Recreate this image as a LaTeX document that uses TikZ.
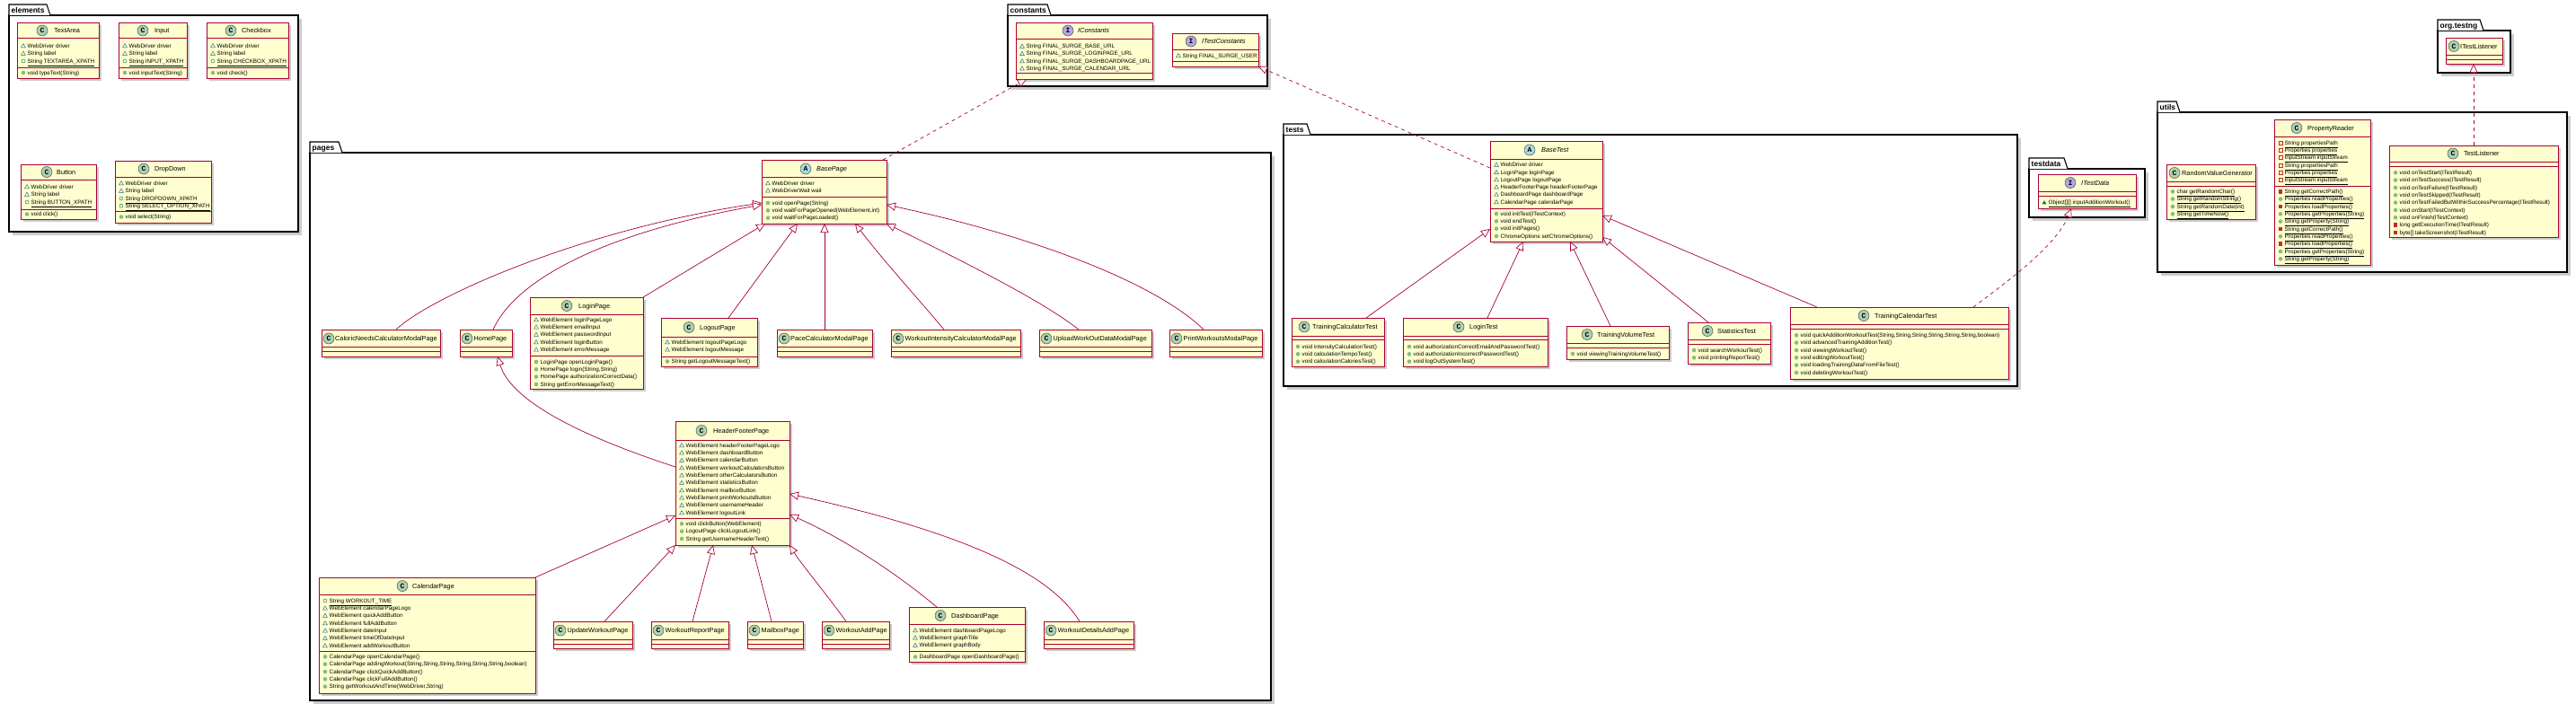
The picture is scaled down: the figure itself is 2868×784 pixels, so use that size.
\documentclass[tikz,border=0pt]{standalone}
\usepackage{fontspec}
\setmainfont{Liberation Sans}
\newfontfamily\iconfont{Liberation Mono}
\usetikzlibrary{arrows.meta,fit}
\definecolor{boxfill}{HTML}{FEFECE}
\definecolor{boxline}{HTML}{A80036}
\definecolor{ccirc}{HTML}{ADD1B2}
\definecolor{acirc}{HTML}{A9DCDF}
\definecolor{icirc}{HTML}{B4A7E5}
\definecolor{pkgc}{HTML}{1963A0}
\definecolor{pubc}{HTML}{038048}
\definecolor{pubm}{HTML}{84BE84}
\definecolor{privc}{HTML}{C82930}
\definecolor{shad}{gray}{0.8}
\newcounter{obj}
\newcommand\cls[5]{%
  \fill[shad] ({#2+3},{#3+3}) rectangle ({#4+3},{#5+3});
  \node[clsbox, fit={(#2,#3) (#4,#5)}] (#1) {};}
\newcommand\csep[3]{\draw[boxline, line width=0.8pt] (#1,#3) -- (#2,#3);}
\newcommand\chead[6]{%
  \stepcounter{obj}\node[circ, fill=#5] (o\theobj) at (#1,#2) {#4};
  \stepcounter{obj}\node[cname] (o\theobj) at (#3,{#2+2.6}) {#6};}
\newcommand\mem[4]{%
  \pic at ({#1+7},#2) {#3};
  \stepcounter{obj}\node[mtext] (o\theobj) at ({#1+11.5},{#2+2.2}) {#4};}
\newcommand\pkg[8]{%
  \fill[shad] ({#3+4},{#6+4}) rectangle ({#7+4},{#8+4});
  \node[pkgbox, fit={(#3,#6) (#7,#8)}] (#1) {};
  \draw[black, line width=1.1pt, fill=white] (#3,#6) -- (#3,#4) -- (#5,#4) -- ({#5+4},#6);
  \stepcounter{obj}\node[pkglabel] (o\theobj) at ({#3+2.5},{#6-2.8}) {#2};}
\begin{document}
\begin{tikzpicture}[x=1pt,y=-1pt,
  clsbox/.style={draw=boxline, fill=boxfill, line width=0.9pt, inner sep=0pt, outer sep=0pt},
  pkgbox/.style={draw=black, fill=white, line width=1.1pt, inner sep=0pt, outer sep=0pt},
  circ/.style={circle, minimum size=12pt, inner sep=0pt, draw=black!70, line width=0.5pt, font=\iconfont\bfseries\fontsize{8}{8}\selectfont},
  cname/.style={anchor=base west, inner sep=0pt, font=\fontsize{7.3}{9}\selectfont},
  mtext/.style={anchor=base west, inner sep=0pt, font=\fontsize{6.3}{8}\selectfont},
  pkglabel/.style={anchor=base west, inner sep=0pt, font=\bfseries\fontsize{8.5}{10}\selectfont},
  inh/.style={draw=boxline, line width=0.7pt, -{Triangle[length=10pt,width=9pt,fill=white]}},
  real/.style={inh, dash pattern=on 4pt off 4pt},
  pf/.pic={\draw[pkgc,line width=0.45pt] (-2.4,1.8) -- (2.4,1.8) -- (0,-2.4) -- cycle;},
  pm/.pic={\fill[pkgc] (-2.4,1.8) -- (2.4,1.8) -- (0,-2.4) -- cycle;},
  uf/.pic={\draw[pubc,line width=0.45pt] (0,0) circle (2pt);},
  um/.pic={\fill[pubm] (0,0) circle (2.3pt);},
  rf/.pic={\draw[privc,line width=0.45pt] (-2,-2) rectangle (2,2);},
  rm/.pic={\fill[privc] (-2.3,-2.3) rectangle (2.3,2.3);}
]
\useasboundingbox[fill=white] (0,0) rectangle (2868,784);

% ---------------- packages
\pkg{elements}{elements}{10}{5}{52}{17}{332}{258}
\pkg{constants}{constants}{1122}{5}{1166}{17}{1411}{96}
\pkg{pages}{pages}{345}{158}{377}{170}{1415}{780}
\pkg{tests}{tests}{1429}{138}{1455}{150}{2246}{430}
\pkg{testdata}{testdata}{2259}{176}{2298}{188}{2388}{242}
\pkg{utils}{utils}{2402}{113}{2423}{125}{2858}{303}
\pkg{orgtestng}{org.testng}{2714}{22}{2761}{34}{2795}{81}

% ---------------- elements
\cls{TextArea}{19}{25}{110}{87}
\csep{19}{110}{42}\csep{19}{110}{75}
\chead{47}{34}{60}{C}{ccirc}{TextArea}
\mem{19}{51}{pf}{WebDriver driver}
\mem{19}{59.5}{pf}{String label}
\mem{19}{68}{uf}{\underline{String TEXTAREA\_XPATH}}
\mem{19}{81}{um}{void typeText(String)}

\cls{Input}{132}{25}{208}{87}
\csep{132}{208}{42}\csep{132}{208}{75}
\chead{159}{34}{172}{C}{ccirc}{Input}
\mem{132}{51}{pf}{WebDriver driver}
\mem{132}{59.5}{pf}{String label}
\mem{132}{68}{uf}{\underline{String INPUT\_XPATH}}
\mem{132}{81}{um}{void inputText(String)}

\cls{Checkbox}{230}{25}{321}{87}
\csep{230}{321}{42}\csep{230}{321}{75}
\chead{257}{34}{269}{C}{ccirc}{Checkbox}
\mem{230}{51}{pf}{WebDriver driver}
\mem{230}{59.5}{pf}{String label}
\mem{230}{68}{uf}{\underline{String CHECKBOX\_XPATH}}
\mem{230}{81}{um}{void check()}

\cls{Button}{23}{183}{107}{244}
\csep{23}{107}{200}\csep{23}{107}{233}
\chead{52}{191.5}{63}{C}{ccirc}{Button}
\mem{23}{208}{pf}{WebDriver driver}
\mem{23}{216.5}{pf}{String label}
\mem{23}{225}{uf}{\underline{String BUTTON\_XPATH}}
\mem{23}{238.5}{um}{void click()}

\cls{DropDown}{128}{179}{235}{248}
\csep{128}{235}{197}\csep{128}{235}{235}
\chead{160}{188}{172}{C}{ccirc}{DropDown}
\mem{128}{204}{pf}{WebDriver driver}
\mem{128}{212.5}{pf}{String label}
\mem{128}{221}{uf}{\underline{String DROPDOWN\_XPATH}}
\mem{128}{229.3}{uf}{\underline{String SELECT\_OPTION\_XPATH}}
\mem{128}{241.5}{um}{void select(String)}

% ---------------- constants
\cls{IConstants}{1131}{25}{1283}{88}
\csep{1131}{1283}{43}\csep{1131}{1283}{81}
\chead{1189}{34}{1200}{I}{icirc}{\textit{IConstants}}
\mem{1131}{51.5}{pf}{String FINAL\_SURGE\_BASE\_URL}
\mem{1131}{59.8}{pf}{String FINAL\_SURGE\_LOGINPAGE\_URL}
\mem{1131}{68.1}{pf}{String FINAL\_SURGE\_DASHBOARDPAGE\_URL}
\mem{1131}{76.4}{pf}{String FINAL\_SURGE\_CALENDAR\_URL}

\cls{ITestConstants}{1305}{37}{1401}{74}
\csep{1305}{1401}{55}\csep{1305}{1401}{68}
\chead{1326}{46}{1338}{I}{icirc}{\textit{ITestConstants}}
\mem{1305}{62}{pf}{String FINAL\_SURGE\_USER}

% ---------------- pages
\cls{BasePage}{848}{178}{987}{249}
\csep{848}{987}{197}\csep{848}{987}{219}
\chead{897}{188}{909}{A}{acirc}{\textit{BasePage}}
\mem{848}{204}{pf}{WebDriver driver}
\mem{848}{212.3}{pf}{WebDriverWait wait}
\mem{848}{226}{um}{void openPage(String)}
\mem{848}{234.3}{um}{void waitForPageOpened(WebElement,int)}
\mem{848}{242.6}{um}{void waitForPageLoaded()}

\cls{LoginPage}{590}{331}{716}{433}
\csep{590}{716}{350}\csep{590}{716}{396}
\chead{631}{340.5}{644}{C}{ccirc}{LoginPage}
\mem{590}{356}{pf}{WebElement loginPageLogo}
\mem{590}{364.3}{pf}{WebElement emailInput}
\mem{590}{372.6}{pf}{WebElement passwordInput}
\mem{590}{381}{pf}{WebElement loginButton}
\mem{590}{389.3}{pf}{WebElement errorMessage}
\mem{590}{403}{um}{LoginPage openLoginPage()}
\mem{590}{411.3}{um}{HomePage login(String,String)}
\mem{590}{419.6}{um}{HomePage authorizationCorrectData()}
\mem{590}{428}{um}{String getErrorMessageText()}

\cls{LogoutPage}{736}{354}{843}{408}
\csep{736}{843}{375}\csep{736}{843}{397}
\chead{767}{364.5}{779}{C}{ccirc}{LogoutPage}
\mem{736}{381}{pf}{WebElement logoutPageLogo}
\mem{736}{389.3}{pf}{WebElement logoutMessage}
\mem{736}{402.5}{um}{String getLogoutMessageText()}

\cls{CaloricNeedsCalculatorModalPage}{358}{367}{490}{397}
\csep{358}{490}{386.5}\csep{358}{490}{391.5}
\chead{366}{377}{373}{C}{ccirc}{CaloricNeedsCalculatorModalPage}

\cls{HomePage}{512}{367}{570}{397}
\csep{512}{570}{386.5}\csep{512}{570}{391.5}
\chead{520}{377}{527.5}{C}{ccirc}{HomePage}

\cls{PaceCalculatorModalPage}{865}{367}{971}{397}
\csep{865}{971}{386.5}\csep{865}{971}{391.5}
\chead{873}{377}{880}{C}{ccirc}{PaceCalculatorModalPage}

\cls{WorkoutIntensityCalculatorModalPage}{992}{367}{1136}{397}
\csep{992}{1136}{386.5}\csep{992}{1136}{391.5}
\chead{1000}{377}{1007.5}{C}{ccirc}{WorkoutIntensityCalculatorModalPage}

\cls{UploadWorkOutDataModalPage}{1157}{367}{1282}{397}
\csep{1157}{1282}{386.5}\csep{1157}{1282}{391.5}
\chead{1165}{377}{1172.5}{C}{ccirc}{UploadWorkOutDataModalPage}

\cls{PrintWorkoutsModalPage}{1302}{367}{1405}{397}
\csep{1302}{1405}{386.5}\csep{1302}{1405}{391.5}
\chead{1310}{377}{1317.5}{C}{ccirc}{PrintWorkoutsModalPage}

\cls{HeaderFooterPage}{752}{469}{879}{607}
\csep{752}{879}{490}\csep{752}{879}{577}
\chead{781}{479.5}{794}{C}{ccirc}{HeaderFooterPage}
\mem{752}{496}{pf}{WebElement headerFooterPageLogo}
\mem{752}{504.3}{pf}{WebElement dashboardButton}
\mem{752}{512.6}{pf}{WebElement calendarButton}
\mem{752}{521}{pf}{WebElement workoutCalculatorsButton}
\mem{752}{529.3}{pf}{WebElement otherCalculatorsButton}
\mem{752}{537.6}{pf}{WebElement statisticsButton}
\mem{752}{546}{pf}{WebElement mailboxButton}
\mem{752}{554.3}{pf}{WebElement printWorkoutsButton}
\mem{752}{562.6}{pf}{WebElement usernameHeader}
\mem{752}{571}{pf}{WebElement logoutLink}
\mem{752}{583.3}{um}{void clickButton(WebElement)}
\mem{752}{591.6}{um}{LogoutPage clickLogoutLink()}
\mem{752}{600}{um}{String getUsernameHeaderText()}

\cls{CalendarPage}{355}{643}{596}{772}
\csep{355}{596}{662}\csep{355}{596}{725}
\chead{448}{652.5}{459}{C}{ccirc}{CalendarPage}
\mem{355}{669}{uf}{\underline{String WORKOUT\_TIME}}
\mem{355}{677.3}{pf}{WebElement calendarPageLogo}
\mem{355}{685.6}{pf}{WebElement quickAddButton}
\mem{355}{694}{pf}{WebElement fullAddButton}
\mem{355}{702.3}{pf}{WebElement dateInput}
\mem{355}{710.6}{pf}{WebElement timeOfDateInput}
\mem{355}{719}{pf}{WebElement addWorkoutButton}
\mem{355}{731.3}{um}{CalendarPage openCalendarPage()}
\mem{355}{739.6}{um}{CalendarPage addingWorkout(String,String,String,String,String,String,boolean)}
\mem{355}{748}{um}{CalendarPage clickQuickAddButton()}
\mem{355}{756.3}{um}{CalendarPage clickFullAddButton()}
\mem{355}{764.6}{um}{String getWorkoutAndTime(WebDriver,String)}

\cls{UpdateWorkoutPage}{616}{692}{704}{722}
\csep{616}{704}{712}\csep{616}{704}{717}
\chead{624}{702}{631.5}{C}{ccirc}{UpdateWorkoutPage}

\cls{WorkoutReportPage}{725}{692}{811}{722}
\csep{725}{811}{712}\csep{725}{811}{717}
\chead{733}{702}{740.5}{C}{ccirc}{WorkoutReportPage}

\cls{MailboxPage}{832}{692}{894}{722}
\csep{832}{894}{712}\csep{832}{894}{717}
\chead{840}{702}{847.5}{C}{ccirc}{MailboxPage}

\cls{WorkoutAddPage}{915}{692}{990}{722}
\csep{915}{990}{712}\csep{915}{990}{717}
\chead{923}{702}{930.5}{C}{ccirc}{WorkoutAddPage}

\cls{DashboardPage}{1012}{676}{1141}{737}
\csep{1012}{1141}{695}\csep{1012}{1141}{725}
\chead{1047}{685.5}{1059}{C}{ccirc}{DashboardPage}
\mem{1012}{702}{pf}{WebElement dashboardPageLogo}
\mem{1012}{710.3}{pf}{WebElement graphTitle}
\mem{1012}{718.6}{pf}{WebElement graphBody}
\mem{1012}{731.5}{um}{DashboardPage openDashboardPage()}

\cls{WorkoutDetailsAddPage}{1162}{692}{1262}{722}
\csep{1162}{1262}{712}\csep{1162}{1262}{717}
\chead{1170}{702}{1177.5}{C}{ccirc}{WorkoutDetailsAddPage}

% ---------------- tests
\cls{BaseTest}{1659}{157}{1784}{269}
\csep{1659}{1784}{177}\csep{1659}{1784}{232}
\chead{1703}{167}{1716}{A}{acirc}{\textit{BaseTest}}
\mem{1659}{183.5}{pf}{WebDriver driver}
\mem{1659}{191.8}{pf}{LoginPage loginPage}
\mem{1659}{200.1}{pf}{LogoutPage logoutPage}
\mem{1659}{208.4}{pf}{HeaderFooterPage headerFooterPage}
\mem{1659}{216.7}{pf}{DashboardPage dashboardPage}
\mem{1659}{225}{pf}{CalendarPage calendarPage}
\mem{1659}{238}{um}{void initTest(ITestContext)}
\mem{1659}{246.3}{um}{void endTest()}
\mem{1659}{254.6}{um}{void initPages()}
\mem{1659}{263}{um}{ChromeOptions setChromeOptions()}

\cls{TrainingCalculatorTest}{1438}{354}{1541}{408}
\csep{1438}{1541}{374}\csep{1438}{1541}{378.5}
\chead{1452}{364}{1461}{C}{ccirc}{TrainingCalculatorTest}
\mem{1438}{386}{um}{void intensityCalculationTest()}
\mem{1438}{394.3}{um}{void calculationTempoTest()}
\mem{1438}{402.6}{um}{void calculationCaloriesTest()}

\cls{LoginTest}{1562}{354}{1723}{408}
\csep{1562}{1723}{374}\csep{1562}{1723}{378.5}
\chead{1624}{364}{1636}{C}{ccirc}{LoginTest}
\mem{1562}{386}{um}{void authorizationCorrectEmailAndPasswordTest()}
\mem{1562}{394.3}{um}{void authorizationIncorrectPasswordTest()}
\mem{1562}{402.6}{um}{void logOutSystemTest()}

\cls{TrainingVolumeTest}{1744}{363}{1858}{400}
\csep{1744}{1858}{382}\csep{1744}{1858}{387}
\chead{1767}{372.5}{1778}{C}{ccirc}{TrainingVolumeTest}
\mem{1744}{394}{um}{void viewingTrainingVolumeTest()}

\cls{StatisticsTest}{1879}{359}{1971}{405}
\csep{1879}{1971}{378}\csep{1879}{1971}{383}
\chead{1901}{368.5}{1912}{C}{ccirc}{StatisticsTest}
\mem{1879}{390}{um}{void searchWorkoutTest()}
\mem{1879}{398.3}{um}{void printingReportTest()}

\cls{TrainingCalendarTest}{1993}{342}{2236}{422}
\csep{1993}{2236}{361}\csep{1993}{2236}{366}
\chead{2075}{351.5}{2087}{C}{ccirc}{TrainingCalendarTest}
\mem{1993}{373.3}{um}{void quickAdditionWorkoutTest(String,String,String,String,String,String,boolean)}
\mem{1993}{381.6}{um}{void advancedTrainingAdditionTest()}
\mem{1993}{390}{um}{void viewingWorkoutTest()}
\mem{1993}{398.3}{um}{void editingWorkoutTest()}
\mem{1993}{406.6}{um}{void loadingTrainingDataFromFileTest()}
\mem{1993}{415}{um}{void deletingWorkoutTest()}

% ---------------- testdata
\cls{ITestData}{2269}{194}{2378}{232}
\csep{2269}{2378}{213}\csep{2269}{2378}{218}
\chead{2305}{203.5}{2317}{I}{icirc}{\textit{ITestData}}
\mem{2269}{225.5}{pm}{\underline{Object[][] inputAdditionWorkout()}}

% ---------------- utils
\cls{RandomValueGenerator}{2412}{183}{2511}{244}
\csep{2412}{2511}{202}\csep{2412}{2511}{207}
\chead{2421}{192.5}{2429}{C}{ccirc}{RandomValueGenerator}
\mem{2412}{213.3}{um}{\underline{char getRandomChar()}}
\mem{2412}{221.6}{um}{\underline{String getRandomString()}}
\mem{2412}{230}{um}{\underline{String getRandomDate(int)}}
\mem{2412}{238.3}{um}{\underline{String getTimeNow()}}

\cls{PropertyReader}{2532}{133}{2639}{295}
\csep{2532}{2639}{152}\csep{2532}{2639}{207}
\chead{2557}{142.5}{2569}{C}{ccirc}{PropertyReader}
\mem{2532}{159}{rf}{\underline{String propertiesPath}}
\mem{2532}{167.3}{rf}{\underline{Properties properties}}
\mem{2532}{175.6}{rf}{\underline{InputStream inputStream}}
\mem{2532}{184}{rf}{\underline{String propertiesPath}}
\mem{2532}{192.3}{rf}{\underline{Properties properties}}
\mem{2532}{200.6}{rf}{\underline{InputStream inputStream}}
\mem{2532}{213.3}{rm}{\underline{String getCorrectPath()}}
\mem{2532}{221.6}{um}{\underline{Properties readProperties()}}
\mem{2532}{230}{rm}{\underline{Properties loadProperties()}}
\mem{2532}{238.3}{um}{\underline{Properties getProperties(String)}}
\mem{2532}{246.6}{um}{\underline{String getProperty(String)}}
\mem{2532}{255}{rm}{\underline{String getCorrectPath()}}
\mem{2532}{263.3}{um}{\underline{Properties readProperties()}}
\mem{2532}{271.6}{rm}{\underline{Properties loadProperties()}}
\mem{2532}{280}{um}{\underline{Properties getProperties(String)}}
\mem{2532}{288.3}{um}{\underline{String getProperty(String)}}

\cls{TestListener}{2660}{162}{2848}{264}
\csep{2660}{2848}{180}\csep{2660}{2848}{185}
\chead{2731}{171}{2743}{C}{ccirc}{TestListener}
\mem{2660}{192.3}{um}{void onTestStart(ITestResult)}
\mem{2660}{200.6}{um}{void onTestSuccess(ITestResult)}
\mem{2660}{209}{um}{void onTestFailure(ITestResult)}
\mem{2660}{217.3}{um}{void onTestSkipped(ITestResult)}
\mem{2660}{225.6}{um}{void onTestFailedButWithinSuccessPercentage(ITestResult)}
\mem{2660}{234}{um}{void onStart(ITestContext)}
\mem{2660}{242.3}{um}{void onFinish(ITestContext)}
\mem{2660}{250.6}{rm}{long getExecutionTime(ITestResult)}
\mem{2660}{259}{rm}{byte[] takeScreenshot(ITestResult)}

% ---------------- org.testng
\cls{ITestListener}{2723}{42}{2786}{71}
\csep{2723}{2786}{61}\csep{2723}{2786}{66}
\chead{2732}{51.5}{2739}{C}{ccirc}{ITestListener}

% ---------------- connectors
\draw[inh] (CaloricNeedsCalculatorModalPage.north -| 441,0) .. controls (480,330) and (650,255) .. (BasePage.west |- 0,226);
\draw[inh] (HomePage.north -| 549,0) .. controls (572,316) and (660,262) .. (BasePage.west |- 0,228);
\draw[inh] (LoginPage.north east) -- (BasePage.south -| 852,0);
\draw[inh] (LogoutPage.north -| 811,0) -- (BasePage.south -| 888,0);
\draw[inh] (PaceCalculatorModalPage.north -| 918,0) -- (BasePage.south -| 918,0);
\draw[inh] (WorkoutIntensityCalculatorModalPage.north -| 1051,0) .. controls (1020,330) and (985,292) .. (BasePage.south -| 952,0);
\draw[inh] (UploadWorkOutDataModalPage.north -| 1201,0) .. controls (1160,335) and (1080,295) .. (BasePage.south east);
\draw[inh] (PrintWorkoutsModalPage.north -| 1340,0) .. controls (1290,318) and (1160,265) .. (BasePage.east |- 0,228);
\draw[inh] (HeaderFooterPage.west |- 0,520) .. controls (660,490) and (570,450) .. (HomePage.south -| 554,0);
\draw[inh] (CalendarPage.north east) -- (HeaderFooterPage.west |- 0,574);
\draw[inh] (UpdateWorkoutPage.north -| 673,0) -- (HeaderFooterPage.south west);
\draw[inh] (WorkoutReportPage.north -| 771,0) -- (HeaderFooterPage.south -| 794,0);
\draw[inh] (MailboxPage.north -| 859,0) -- (HeaderFooterPage.south -| 837,0);
\draw[inh] (WorkoutAddPage.north -| 942,0) .. controls (915,655) and (892,628) .. (HeaderFooterPage.south east);
\draw[inh] (DashboardPage.north -| 1043,0) .. controls (1000,640) and (940,600) .. (HeaderFooterPage.east |- 0,573);
\draw[inh] (WorkoutDetailsAddPage.north -| 1202,0) .. controls (1170,640) and (1080,595) .. (HeaderFooterPage.east |- 0,550);
\draw[inh] (TrainingCalculatorTest.north -| 1521,0) -- (BaseTest.west |- 0,255);
\draw[inh] (LoginTest.north -| 1656,0) -- (BaseTest.south -| 1696,0);
\draw[inh] (TrainingVolumeTest.north -| 1793,0) -- (BaseTest.south -| 1748,0);
\draw[inh] (StatisticsTest.north -| 1902,0) -- (BaseTest.east |- 0,264);
\draw[inh] (TrainingCalendarTest.north -| 2023,0) -- (BaseTest.east |- 0,240);
\draw[real] (BasePage.north -| 983,0) -- (IConstants.south -| 1143,0);
\draw[real] (BaseTest.west |- 0,187) -- (ITestConstants.south east);
\draw[real] (TrainingCalendarTest.north -| 2197,0) .. controls (2240,310) and (2290,272) .. (ITestData.south -| 2306,0);
\draw[real] (TestListener.north -| 2754,0) -- (ITestListener.south -| 2754,0);
\end{tikzpicture}
\end{document}
